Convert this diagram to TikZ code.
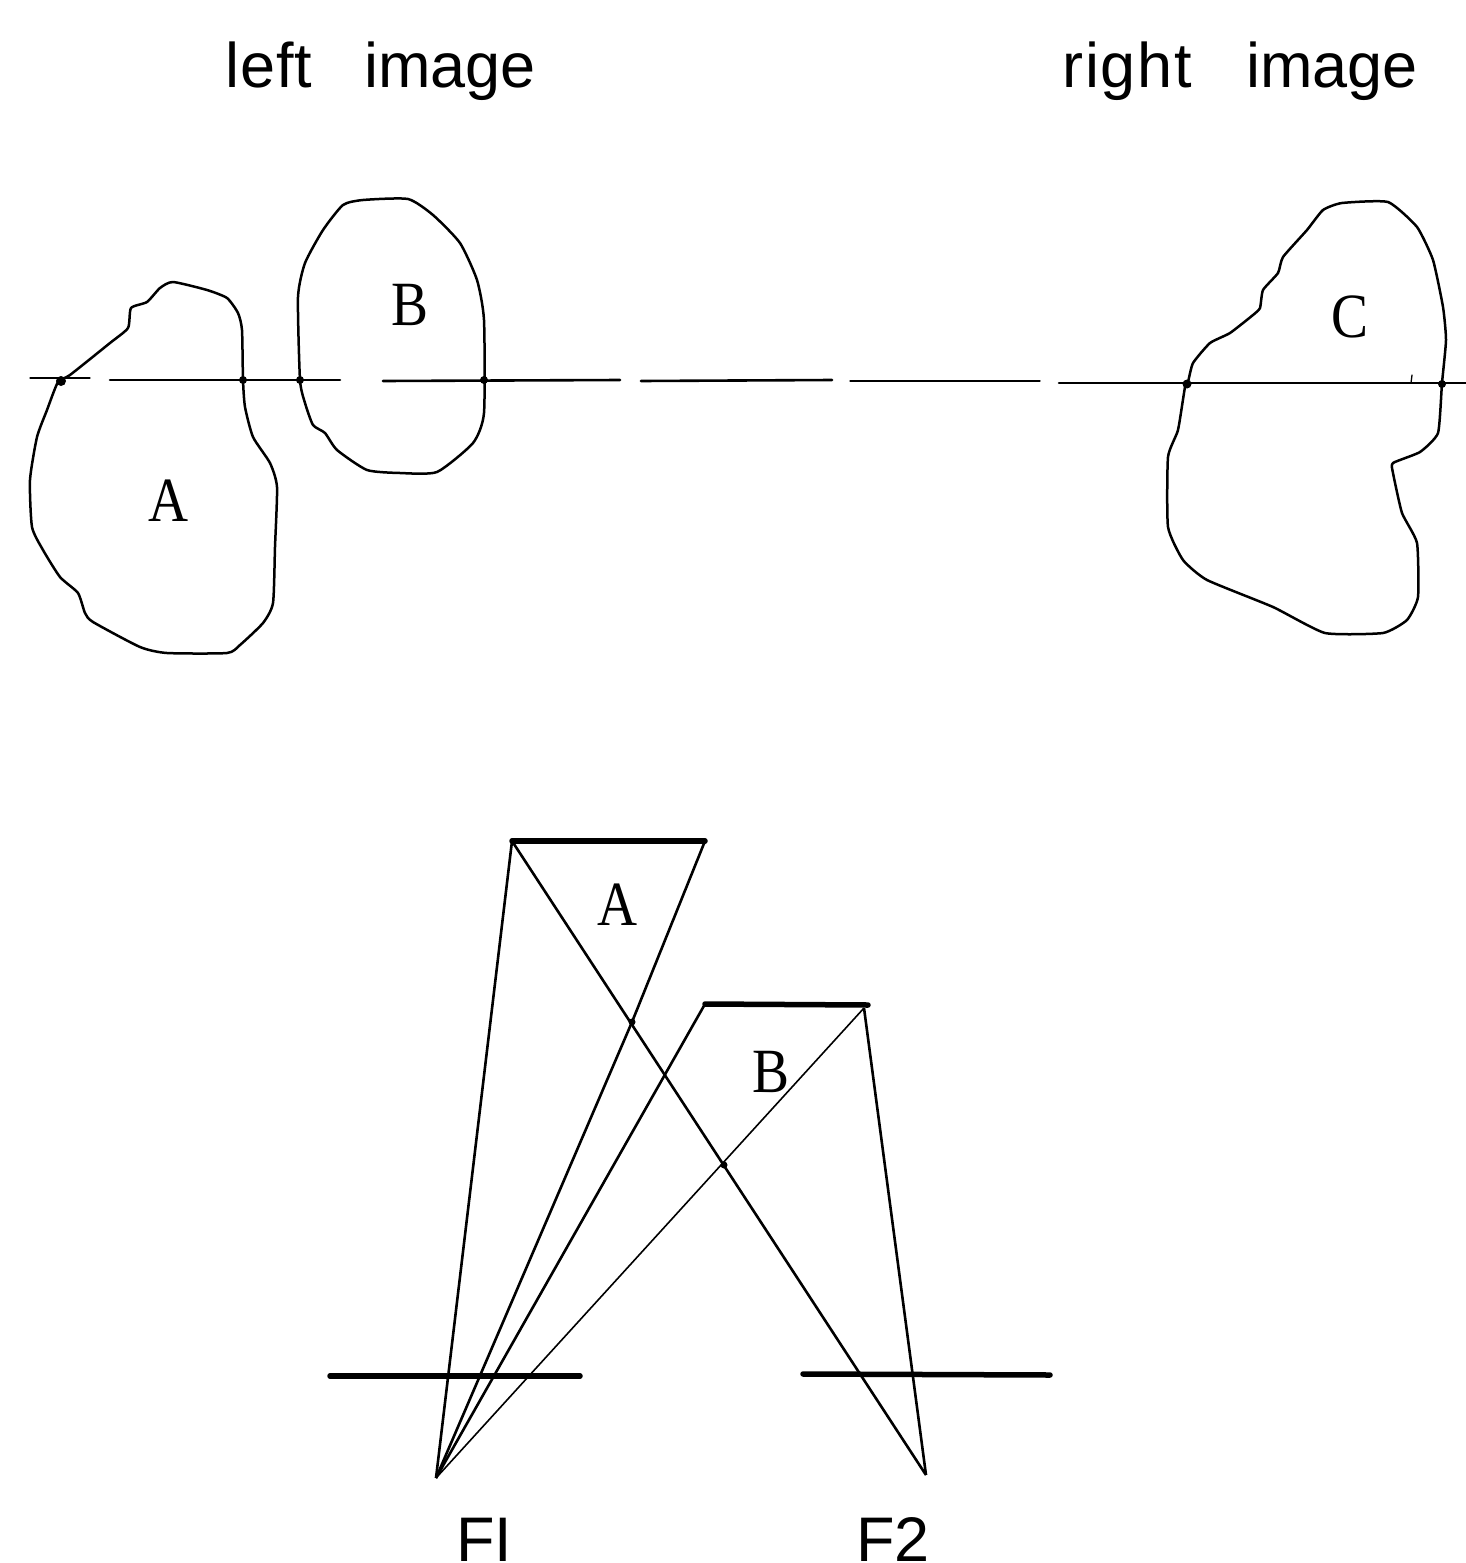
\documentclass[tikz,border=0pt]{standalone}
\usepackage{fontspec}
\setmainfont{Liberation Sans}
\newfontfamily\serifpart{Liberation Serif}
\tikzset{
  caption/.style={anchor=base west,inner sep=0pt,font=\fontsize{63}{63}\selectfont},
  letter/.style={inner sep=0pt,font=\serifpart\fontsize{63}{63}\selectfont,xscale=.88,transform shape},
  blob/.style={line width=2.5pt,black,line join=round},
  epiline/.style={line width=2.6pt,black,line cap=round},
  faint/.style={line width=1.3pt,black,line cap=round},
  ray/.style={line width=2.6pt,black,line join=round},
  thinray/.style={line width=1.6pt,black},
  heavy/.style={line width=5.5pt,black,line cap=round},
  crossing/.style={circle,fill=black,inner sep=0pt,minimum size=10pt}
}
\begin{document}
\begin{tikzpicture}[x=1pt,y=-1pt]
\useasboundingbox (0,0) rectangle (1466,1563);
% captions
\node[caption] (leftcap) at (225,88) {{\addfontfeature{LetterSpace=1.5}left}\hspace{52pt}image};
\node[caption] (rightcap) at (1062,88) {{\addfontfeature{LetterSpace=3}right}\hspace{54pt}image};
\node[caption] (fone) at (456,1561.5) {FI};
\node[caption] (ftwo) at (856,1561.5) {F2};
% blobs
\draw[blob] plot[smooth cycle,tension=.35] coordinates {
 (58,382) (70,375) (110,343) (128,328) (131,308) (147,302) (160,288) (173,282) (207,290) (227,298) (238,313) (242,330)
 (243,380) (245,407) (253,437) (270,463) (277,487) (275,547) (273,603) (263,623) (240,645) (227,653) (167,653)
 (140,647) (93,622) (85,613) (78,593) (60,577) (43,550) (32,527) (30,480) (37,437) (47,410)};
\draw[blob] plot[smooth cycle,tension=.35] coordinates {
 (300,380) (298,297) (305,263) (323,230) (343,205) (363,200) (408,199) (433,215) (460,243) (477,280) (484,320)
 (484,413) (473,443) (437,472) (400,473) (367,470) (337,450) (325,433) (313,425) (305,403)};
\draw[blob] plot[smooth cycle,tension=.3] coordinates {
 (1188,382) (1193,363) (1210,343) (1230,333) (1253,315) (1260,308) (1263,290) (1278,273) (1283,257) (1307,230)
 (1323,210) (1342,203) (1388,202) (1417,227) (1433,260) (1443,307) (1446,340) (1442,383) (1438,433) (1420,452)
 (1393,463) (1393,473) (1402,513) (1417,543) (1418,597) (1407,620) (1383,633) (1325,633) (1273,607) (1207,580)
 (1183,560) (1168,527) (1168,457) (1178,430) (1185,387)};
% epipolar line, broken as printed
\coordinate (e1a) at (30,378); \coordinate (e1b) at (90,378);
\coordinate (e2a) at (110,380); \coordinate (e2b) at (340,380);
\coordinate (e3a) at (383,381); \coordinate (e3b) at (620,380);
\coordinate (e4a) at (641,381); \coordinate (e4b) at (832,380);
\coordinate (e5a) at (850,381); \coordinate (e5b) at (1040,381);
\coordinate (e6a) at (1059,383); \coordinate (e6b) at (1466,383);
\coordinate (tick) at (1412,375); \coordinate (tickb) at (1411,383);
\draw[faint] (e1a) -- (e1b);
\draw[epiline] (e2a) -- (e2b);
\draw[epiline] (e3a) -- (e3b);
\draw[epiline] (e4a) -- (e4b);
\draw[faint] (e5a) -- (e5b);
\draw[epiline] (e6a) -- (e6b);
\draw[faint] (tick) -- (tickb);
\node[crossing] (c1) at (61,381) {};
\node[crossing,minimum size=8pt] (c2) at (243,380) {};
\node[crossing,minimum size=8pt] (c3) at (300,380) {};
\node[crossing,minimum size=8pt] (c4) at (484,380) {};
\node[crossing,minimum size=9pt] (c5) at (1187,384) {};
\node[crossing,minimum size=8pt] (c6) at (1442,384) {};
% letters in images
\node[letter] (la) at (169,501) {A};
\node[letter] (lb) at (410,305) {B};
\node[letter] (lc) at (1350,317) {C};
% lower construction
\coordinate (Atl) at (512,841); \coordinate (Atr) at (705,841);
\coordinate (Btl) at (705,1004); \coordinate (Btr) at (868,1005); \coordinate (Bj) at (864,1008);
\coordinate (F1) at (436,1478); \coordinate (F2) at (926,1475);
\coordinate (Pla) at (330,1376); \coordinate (Plb) at (580,1376);
\coordinate (Pra) at (803,1374); \coordinate (Prb) at (1050,1375);
\coordinate (kink) at (632,1022);
\draw[ray] (F1) -- (Atl);
\draw[ray] (F2) -- (Atl);
\draw[ray] (F1) -- (kink) -- (Atr);
\draw[ray] (F1) -- (Btl);
\draw[thinray] (F1) -- (Bj);
\draw[ray] (F2) -- (Bj);
\draw[heavy] (Atl) -- (Atr);
\draw[heavy] (Btl) -- (Btr);
\draw[heavy] (Pla) -- (Plb);
\draw[heavy] (Pra) -- (Prb);
\node[crossing,minimum size=7pt] (c7) at (632,1022) {};
\node[crossing,minimum size=7pt] (c8) at (724,1165) {};
\node[letter] (la2) at (618,905) {A};
\node[letter] (lb2) at (771,1072) {B};
\end{tikzpicture}
\end{document}
